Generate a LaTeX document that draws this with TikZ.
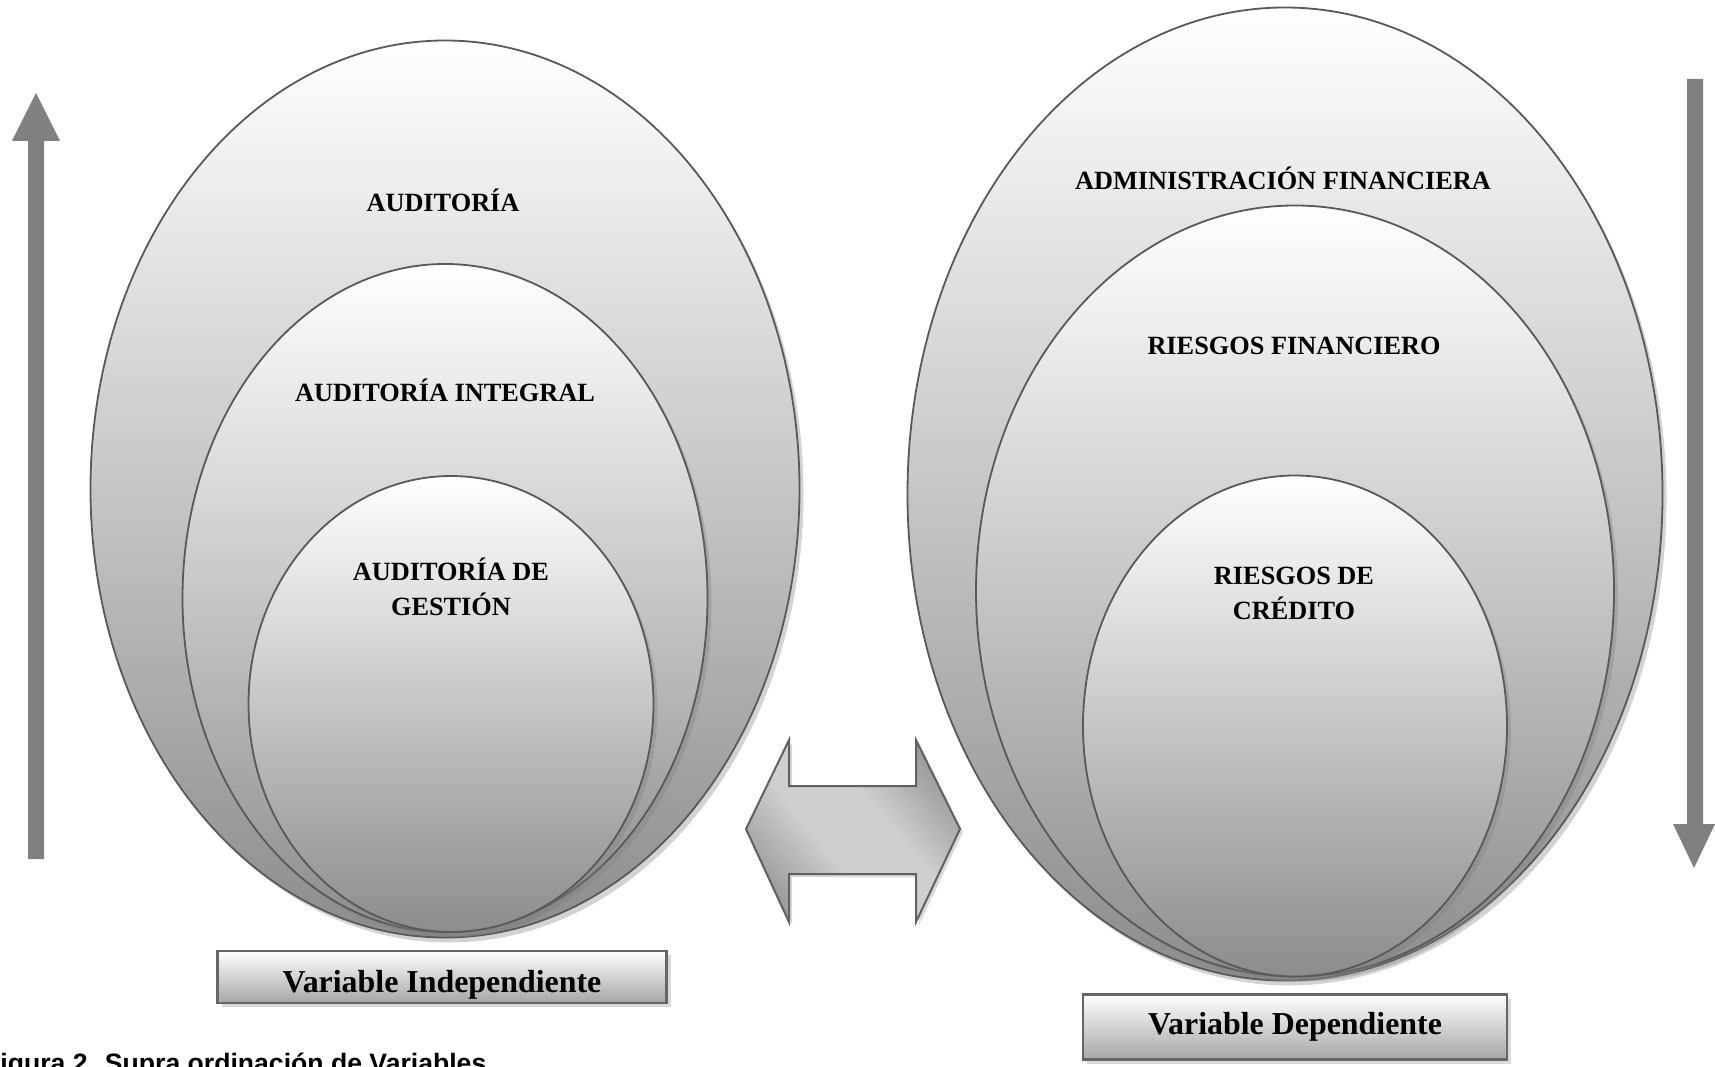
\documentclass[tikz,border=0pt]{standalone}
\usepackage{fontspec}
\setmainfont{Liberation Serif}
\newfontfamily\capfont{Liberation Sans}
\usetikzlibrary{shapes.geometric,shadows,positioning}
\pgfdeclareverticalshading{banda}{100bp}{color(0bp)=(black!46); color(22bp)=(black!42);
  color(42bp)=(black!19); color(58bp)=(black!19); color(78bp)=(black!42); color(100bp)=(black!46)}
\tikzset{
  elip/.style = {ellipse, draw=black!65, line width=1.8pt, inner sep=0pt,
                 top color=white, bottom color=black!45,
                 drop shadow={shadow xshift=4pt, shadow yshift=-5pt, opacity=0.35}},
  rot/.style  = {font=\fontsize{26.3}{35}\selectfont\bfseries, align=center, inner sep=0pt},
  var/.style  = {rectangle, draw=black!60, line width=2.2pt, inner sep=0pt,
                 top color=white, bottom color=black!35,
                 font=\fontsize{31.9}{36}\selectfont\bfseries,
                 drop shadow={shadow xshift=4pt, shadow yshift=-4pt, opacity=0.3}},
  fl/.style   = {fill=black!50, draw=none},
  fld/.style  = {draw=black!62, line width=2pt, shading=banda, shading angle=-50,
                 drop shadow={shadow xshift=3pt, shadow yshift=-3pt, opacity=0.3}},
}
\begin{document}
\begin{tikzpicture}[x=1pt, y=-1pt]
  \useasboundingbox (0,0) rectangle (1715,1067);

  % variable independiente
  \node[elip, minimum width=709pt, minimum height=897pt] (aud) at (445,489) {};
  \node[elip, minimum width=525pt, minimum height=668pt] (audi) at (445,598) {};
  \node[elip, minimum width=405pt, minimum height=456pt] (audg) at (451,704) {};
  \node[rot] (taud) at (443,200) {AUDITORÍA};
  \node[rot] (taudi) at (445,390) {AUDITORÍA INTEGRAL};
  \node[rot] (taudg) at (451,587) {AUDITORÍA DE\\ GESTIÓN};

  % variable dependiente
  \node[elip, minimum width=755pt, minimum height=973pt] (adm) at (1285,494) {};
  \node[elip, minimum width=638pt, minimum height=771pt] (rfin) at (1295,591) {};
  \node[elip, minimum width=424pt, minimum height=501pt] (rcre) at (1295,726) {};
  \node[rot] (tadm) at (1283,178) {ADMINISTRACIÓN FINANCIERA};
  \node[rot] (trfin) at (1294,346) {RIESGOS FINANCIERO};
  \node[rot] (trcre) at (1294,593) {RIESGOS DE\\ CRÉDITO};

  \node[var, minimum width=449pt, minimum height=52pt] (vind) at (442,977)
    {\raisebox{-4pt}[0.7em][0pt]{Variable Independiente}};
  \node[var, minimum width=424pt, minimum height=65pt] (vdep) at (1295,1027) {Variable Dependiente};

  % flechas
  \fill[fl] (28,859) -- (28,141) -- (12,141) -- (36,93) -- (60,141) -- (44,141) -- (44,859) -- cycle;
  \fill[fl] (1687,79) -- (1687,824) -- (1673,824) -- (1694,868) -- (1715,824) -- (1703,824) -- (1703,79) -- cycle;
  \path[fld] (746,829) -- (789,740) -- (789,786) -- (916,786) -- (916,740) -- (960,829)
    -- (916,922) -- (916,874) -- (789,874) -- (789,922) -- cycle;

  \node[anchor=base west, inner sep=0pt,
        font=\capfont\fontsize{26.6}{30}\selectfont\bfseries] (cap) at (-16,1072)
        {Figura 2.  Supra ordinación de Variables};
\end{tikzpicture}
\end{document}
